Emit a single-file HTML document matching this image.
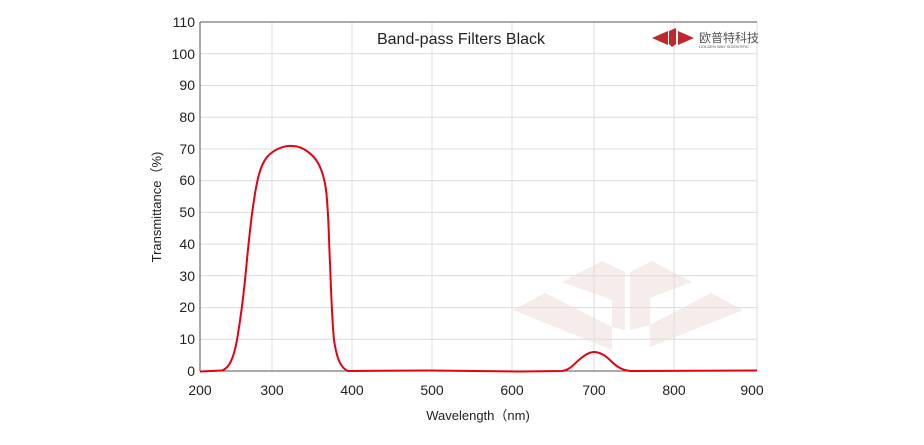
<!DOCTYPE html>
<html><head><meta charset="utf-8"><style>
body{margin:0;background:#fff;}
svg text{font-family:"Liberation Sans","Noto Sans CJK SC",sans-serif;}
</style></head><body>
<svg width="924" height="440" viewBox="0 0 924 440" xmlns="http://www.w3.org/2000/svg">
<g fill="#f7ecec">
<polygon points="513,310 545,293 612,327 612,350"/>
<polygon points="562,282 602,261 625,272 625,330 612,327 612,300"/>
<polygon points="743,310 711,293 650,325 650,347"/>
<polygon points="692,282 652,261 630,272 630,330 650,325 650,298"/>
</g>
<g stroke="#dcdcdc" stroke-width="1">
<line x1="200" y1="339.3" x2="757" y2="339.3"/><line x1="200" y1="307.6" x2="757" y2="307.6"/>
<line x1="200" y1="275.8" x2="757" y2="275.8"/><line x1="200" y1="244.1" x2="757" y2="244.1"/>
<line x1="200" y1="212.4" x2="757" y2="212.4"/><line x1="200" y1="180.7" x2="757" y2="180.7"/>
<line x1="200" y1="149" x2="757" y2="149"/><line x1="200" y1="117.3" x2="757" y2="117.3"/>
<line x1="200" y1="85.5" x2="757" y2="85.5"/><line x1="200" y1="53.8" x2="757" y2="53.8"/>
<line x1="272" y1="22" x2="272" y2="371"/><line x1="352" y1="22" x2="352" y2="371"/>
<line x1="432" y1="22" x2="432" y2="371"/><line x1="512" y1="22" x2="512" y2="371"/>
<line x1="594" y1="22" x2="594" y2="371"/><line x1="674" y1="22" x2="674" y2="371"/>
<line x1="757" y1="22" x2="757" y2="371"/>
</g>
<line x1="200" y1="22" x2="757" y2="22" stroke="#555"/>
<line x1="200" y1="22" x2="200" y2="371" stroke="#555"/>
<line x1="200" y1="371" x2="757" y2="371" stroke="#555"/>
<g font-size="14" fill="#222" text-anchor="end">
<text x="195" y="376">0</text><text x="195" y="344">10</text><text x="195" y="312">20</text>
<text x="195" y="281">30</text><text x="195" y="249">40</text><text x="195" y="217">50</text>
<text x="195" y="185">60</text><text x="195" y="154">70</text><text x="195" y="122">80</text>
<text x="195" y="90">90</text><text x="195" y="59">100</text><text x="195" y="27">110</text>
</g>
<g font-size="14" fill="#222" text-anchor="middle">
<text x="200" y="395">200</text><text x="272" y="395">300</text><text x="352" y="395">400</text>
<text x="432" y="395">500</text><text x="512" y="395">600</text><text x="594" y="395">700</text>
<text x="674" y="395">800</text><text x="752" y="395">900</text>
<text x="478" y="420" font-size="13">Wavelength（nm)</text>
<text x="461" y="44" font-size="16">Band-pass  Filters Black</text>
</g>
<text transform="translate(161,207) rotate(-90)" font-size="13" fill="#222" text-anchor="middle">Transmittance（%)</text>
<path d="M200,371.5 L222,370.5 C230,368 234,356 237,340 C240,322 243,300 245,280 C248,250 250,225 254,200 C257,180 260,166 267,157 C274,149 285,145 293,146 C302,146 313,154 318,163 C323,172 326,185 327,200 C329,225 329,245 330,263 C331,290 332,320 334,340 C337,360 341,368 348,371 L430,370.5 L520,371.5 L562,371 C570,370 574,364 580,359 C586,354 590,352 594,352 C600,352 605,355 611,361 C617,367 622,370 630,371 L757,370.5" fill="none" stroke="#e60012" stroke-width="2"/>
<g>
<polygon points="652,38 668,31 668,45" fill="#c0272d"/>
<polygon points="669,31 676,28 676,44 672,47 669,44" fill="#c0272d"/>
<polygon points="694,38 678,31 678,45" fill="#c0272d"/>
<text x="699" y="42" font-size="12" fill="#555">欧普特科技</text>
<text x="699" y="48" font-size="4" fill="#555">GOLDEN WAY SCIENTIFIC</text>
</g>
</svg>
</body></html>
